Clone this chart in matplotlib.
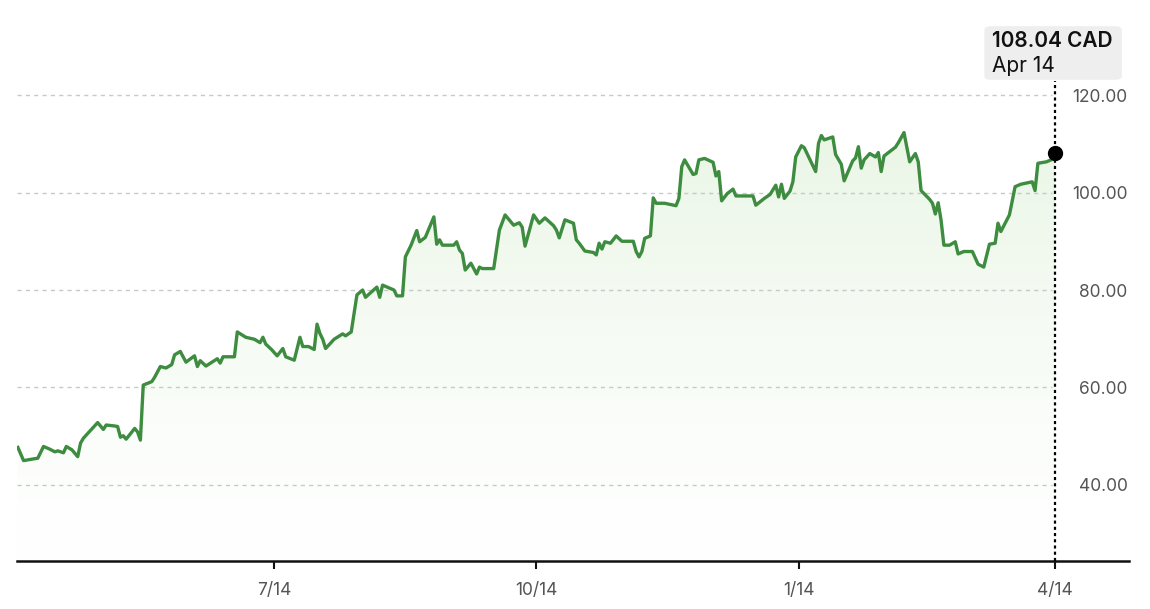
import matplotlib
matplotlib.use("Agg")
import matplotlib.pyplot as plt
import matplotlib.dates as mdates
from matplotlib.patches import FancyBboxPatch
import numpy as np
import pandas as pd

plt.rcParams['font.family'] = ['Inter', 'DejaVu Sans']

# trading days counted from 2024-04-15, price in CAD
start = pd.Timestamp('2024-04-15')
day = [0, 2, 7, 9, 11, 13, 14, 16, 17, 19, 21, 22, 23, 28, 30, 31, 34, 35, 36, 37,
       38, 41, 42, 43, 44, 47, 48, 50, 52, 54, 55, 57, 59,
       62, 63, 64, 66, 70, 71, 72, 76, 77, 80, 83, 85, 86, 87, 89, 91, 93, 94, 97, 99,
       100, 102, 104, 105, 106, 107, 108, 111, 114, 115, 117, 119, 121,
       122, 126, 127, 128, 132, 133, 135, 136, 138, 140, 141, 143, 146, 147, 148, 149,
       153, 154, 155, 156, 157, 159, 161, 162, 163, 167, 169, 171, 174, 176, 177, 178,
       181, 183, 185, 188, 189, 190, 192, 195, 196, 197, 199, 202, 203, 204, 205, 206,
       208, 210, 212, 216, 217, 218, 219, 220, 222, 223, 224, 227, 231, 232, 233, 234,
       237, 238, 239, 241,
       244, 245, 246, 247, 249, 251, 252, 258, 259, 262, 264, 266, 267, 268, 269, 271,
       272, 273, 275, 276, 280, 281, 282, 283, 286, 287, 289, 290, 293, 294, 295, 296, 297,
       299, 301, 302, 303, 304, 308, 309, 311, 313, 315, 316, 317, 320, 321, 322, 323,
       324, 325, 327, 329, 330, 332, 335, 337, 339, 341, 343, 344, 345, 348, 350, 352,
       356, 357, 358, 361, 363, 364]
price = [47.7, 45.0, 45.5, 47.9, 47.4, 46.8, 47.0, 46.6, 47.9, 47.2, 45.8, 48.6, 49.6, 52.8, 51.4, 52.3, 52.1, 52.0, 49.8, 50.1,
         49.4, 51.6, 50.9, 49.2, 60.5, 61.2, 62.1, 64.3, 64.0, 64.7, 66.7, 67.4, 65.2,
         66.5, 64.3, 65.5, 64.4, 65.9, 65.0, 66.3, 66.3, 71.4, 70.3, 69.9, 69.2, 70.3, 68.9, 67.8, 66.5, 68.0, 66.3, 65.6, 70.3,
         68.4, 68.4, 67.8, 73.0, 71.1, 69.9, 68.0, 69.9, 71.0, 70.6, 71.4, 79.0, 80.0,
         78.5, 80.6, 78.5, 81.0, 80.0, 78.8, 78.8, 86.8, 89.2, 92.2, 89.9, 90.8, 95.0, 89.4, 90.3, 89.2,
         89.2, 89.9, 88.2, 87.5, 84.1, 85.5, 83.3, 84.7, 84.4, 84.4, 92.3, 95.4, 93.3, 93.8, 92.9, 89.0,
         95.4, 93.7, 94.8, 93.2, 92.3, 90.7, 94.4, 93.7, 90.3, 89.6, 88.0, 87.7, 87.2, 89.6, 88.4, 89.9,
         89.6, 91.1, 90.0, 90.0, 87.9, 86.8, 87.9, 90.6, 91.1, 98.9, 97.8, 97.8, 97.3, 98.8, 105.3, 106.7,
         103.7, 103.9, 106.7, 107.0,
         106.2, 103.4, 104.3, 98.3, 99.8, 100.7, 99.3, 99.3, 97.4, 98.8, 99.6, 101.5, 99.1, 101.7, 98.8, 100.3,
         102.2, 107.3, 109.6, 109.2, 104.3, 110.1, 111.7, 110.8, 111.4, 107.8, 105.8, 102.4, 106.5, 107.1, 109.4, 105.0, 106.7,
         108.0, 107.3, 108.2, 104.3, 107.5, 109.3, 110.2, 112.3, 106.3, 108.0, 106.3, 100.4, 98.6, 97.8, 95.6, 97.9,
         94.4, 89.2, 89.2, 89.9, 87.4, 87.9, 87.9, 85.3, 84.7, 89.4, 89.6, 93.7, 92.0, 95.4, 101.2, 101.7,
         102.2, 100.4, 106.0, 106.3, 106.8, 107.0]

last_price = 108.04
last_label = 'Apr 14'
currency = 'CAD'
yticks = [40, 60, 80, 100, 120]
xtick_dates = ['2024-07-14', '2024-10-14', '2025-01-14', '2025-04-14']
xtick_labels = ['7/14', '10/14', '1/14', '4/14']

dates = start + pd.to_timedelta(day, unit='D')
last_date = dates[-1]

fig = plt.figure(figsize=(11.5, 6.09), dpi=100)
ax = fig.add_axes([0.0148, 0.0788, 0.967, 0.9212])

x0 = start - pd.Timedelta(days=0.3)
x1 = pd.Timestamp('2025-05-10')
ylo, yhi = 24.4, 139.5

line_col = '#3d8c40'

# gradient fill under the line
fill = ax.fill_between(dates, price, ylo, facecolor='none', edgecolor='none')
top = np.array([234, 246, 230]) / 255
bot = np.array([255, 255, 255]) / 255
t = np.linspace(0, 1, 256)[:, None] ** 1.3
grad = bot + (top - bot) * t
img = ax.imshow(grad[:, None, :].repeat(2, axis=1), aspect='auto', origin='lower',
                extent=[mdates.date2num(x0), mdates.date2num(x1), ylo, 113], zorder=1)
img.set_clip_path(fill.get_paths()[0], transform=ax.transData)

# grid lines
ax.hlines(yticks, x0, last_date - pd.Timedelta(days=1), colors='#c9c9c9',
          linestyles=(0, (3, 3)), linewidth=1, zorder=2)

ax.plot(dates, price, color=line_col, linewidth=2.4, zorder=3, solid_joinstyle='round')

# hover marker
ax.axvline(last_date, ymin=0, ymax=0.856, color='black', linewidth=1.6,
           linestyle=(0, (1.4, 1.4)), zorder=4)
ax.plot([last_date], [last_price], 'o', color='black', markersize=10, zorder=5)

ax.set_xlim(x0, x1)
ax.set_ylim(ylo, yhi)

for s in ['top', 'left', 'right']:
    ax.spines[s].set_visible(False)
ax.spines['bottom'].set_linewidth(1.8)
ax.spines['bottom'].set_color('#111111')

ax.set_xticks(pd.to_datetime(xtick_dates))
ax.set_xticklabels(xtick_labels)
ax.tick_params(axis='x', length=6, width=1.5, color='#111111', pad=9,
               labelsize=12.5, labelcolor='#555555')

ax.yaxis.tick_right()
ax.set_yticks(yticks)
ax.set_yticklabels([f'{v:.2f}' for v in yticks])
ax.tick_params(axis='y', length=0, pad=-1, labelsize=12.5, labelcolor='#555555')
for lbl in ax.get_yticklabels():
    lbl.set_horizontalalignment('right')

# tooltip box
box = FancyBboxPatch((0.8560, 0.8690), 0.1195, 0.0880,
                     boxstyle='round,pad=0,rounding_size=0.006',
                     transform=fig.transFigure, facecolor='#eeeeee',
                     edgecolor='none', zorder=6)
fig.patches.append(box)
fig.text(0.8626, 0.9225, f'{last_price:.2f} {currency}', fontsize=15,
         fontweight='semibold', color='#111111', va='baseline', ha='left', zorder=7)
fig.text(0.8626, 0.8820, last_label, fontsize=15, color='#111111',
         va='baseline', ha='left', zorder=7)

fig.savefig('out.png', dpi=100)
